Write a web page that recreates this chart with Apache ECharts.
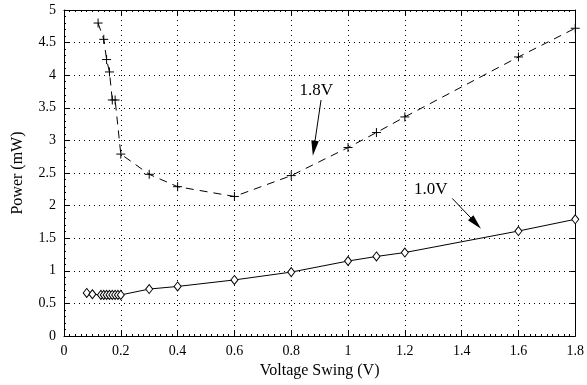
<!DOCTYPE html>
<html>
<head>
<meta charset="utf-8">
<script src="https://cdn.jsdelivr.net/npm/echarts@6/dist/echarts.min.js"></script>
<style>html,body{margin:0;padding:0;background:#fff}#c{width:587px;height:385px}</style>
</head>
<body>
<div id="c"></div>
<script>
const xTicks = [0, 0.2, 0.4, 0.6, 0.8, 1, 1.2, 1.4, 1.6, 1.8];
const yTicks = [0, 0.5, 1, 1.5, 2, 2.5, 3, 3.5, 4, 4.5, 5];
const swing18 = [0.12, 0.14, 0.15, 0.16, 0.17, 0.18, 0.2, 0.3, 0.4, 0.6, 0.8, 1.0, 1.1, 1.2, 1.6, 1.8];
const power18 = [4.80, 4.55, 4.24, 4.05, 3.62, 3.62, 2.79, 2.48, 2.29, 2.14, 2.46, 2.89, 3.12, 3.36, 4.28, 4.72];
const swing10 = [0.08, 0.10, 0.13, 0.14, 0.15, 0.16, 0.17, 0.18, 0.19, 0.2, 0.3, 0.4, 0.6, 0.8, 1.0, 1.1, 1.2, 1.6, 1.8];
const power10 = [0.66, 0.64, 0.63, 0.63, 0.63, 0.63, 0.63, 0.63, 0.63, 0.63, 0.72, 0.76, 0.86, 0.98, 1.15, 1.22, 1.28, 1.61, 1.79];
const labels = ['1.8V', '1.0V'];
const labelPos = [[0.888, 3.76], [1.291, 2.25]];
const arrows = [[[0.905, 3.62], [0.880, 2.88]], [[1.367, 2.11], [1.450, 1.73]]];

const font = 'Liberation Serif';
const chart = echarts.init(document.getElementById('c'));
const zip = (a, b) => a.map((v, i) => [v, b[i]]);
const plus = 'path://M0,5L10,5M5,0L5,10';
const slimArrow = 'path://M0,0M14,14M7,0L10.5,14L3.5,14Z';
const dotted = {color: '#000', type: [1, 4], width: 1};
const axisCommon = {
  min: 0,
  axisLine: {show: true, onZero: false, lineStyle: {color: '#000', width: 1}},
  axisTick: {show: true, inside: true, length: 5, lineStyle: {color: '#000'}},
};
const fmt = ticks => v => { const s = ticks.find(t => Math.abs(t - v) < 1e-6); return s === undefined ? '' : String(s); };
chart.setOption({
  animation: false,
  grid: {left: 64, right: 10, top: 10, bottom: 49, containLabel: false},
  xAxis: [
    Object.assign({}, axisCommon, {
      type: 'value', max: 1.8, interval: 0.2, position: 'bottom',
      minorTick: {show: true, splitNumber: 10, length: 2, lineStyle: {color: '#000'}},
      name: 'Voltage Swing (V)', nameLocation: 'middle', nameGap: 26,
      nameTextStyle: {fontFamily: font, fontSize: 16, color: '#000'},
      axisLabel: {fontFamily: font, fontSize: 14, color: '#000', margin: 8, formatter: fmt(xTicks)},
      splitLine: {show: true, lineStyle: dotted}
    }),
    Object.assign({}, axisCommon, {
      type: 'value', max: 1.8, interval: 0.2, position: 'top',
      minorTick: {show: true, splitNumber: 10, length: 2, lineStyle: {color: '#000'}},
      axisLabel: {show: false}, splitLine: {show: false}
    })
  ],
  yAxis: [
    Object.assign({}, axisCommon, {
      type: 'value', max: 5, interval: 0.5, position: 'left',
      minorTick: {show: true, splitNumber: 5, length: 2, lineStyle: {color: '#000'}},
      name: 'Power (mW)', nameLocation: 'middle', nameGap: 38,
      nameTextStyle: {fontFamily: font, fontSize: 16, color: '#000'},
      axisLabel: {fontFamily: font, fontSize: 14, color: '#000', margin: 8, formatter: fmt(yTicks)},
      splitLine: {show: true, lineStyle: dotted}
    }),
    Object.assign({}, axisCommon, {
      type: 'value', max: 5, interval: 0.5, position: 'right',
      minorTick: {show: false},
      axisLabel: {show: false}, splitLine: {show: false}
    })
  ],
  series: [
    {
      type: 'line', name: labels[0], data: zip(swing18, power18),
      symbol: plus, symbolSize: 9, showAllSymbol: true,
      itemStyle: {color: 'none', borderColor: '#000', borderWidth: 1},
      lineStyle: {color: '#000', width: 1, type: [8, 6]},
      markLine: {
        silent: true, symbol: ['none', slimArrow], symbolSize: 15,
        itemStyle: {color: '#000'},
        lineStyle: {color: '#000', width: 1, type: 'solid'}, label: {show: false},
        data: arrows.map(a => [{coord: a[0]}, {coord: a[1]}])
      },
      markPoint: {
        silent: true, symbol: 'circle', symbolSize: 0,
        itemStyle: {color: 'none'},
        label: {show: true, position: 'inside', fontFamily: font, fontSize: 17, color: '#000', formatter: p => p.name},
        data: labels.map((l, i) => ({name: l, coord: labelPos[i]}))
      },
      z: 3
    },
    {
      type: 'line', name: labels[1], data: zip(swing10, power10),
      symbol: 'diamond', symbolSize: [7, 9], showAllSymbol: true,
      itemStyle: {color: '#fff', borderColor: '#000', borderWidth: 1},
      lineStyle: {color: '#000', width: 1},
      z: 3
    }
  ]
});
</script>
</body>
</html>
